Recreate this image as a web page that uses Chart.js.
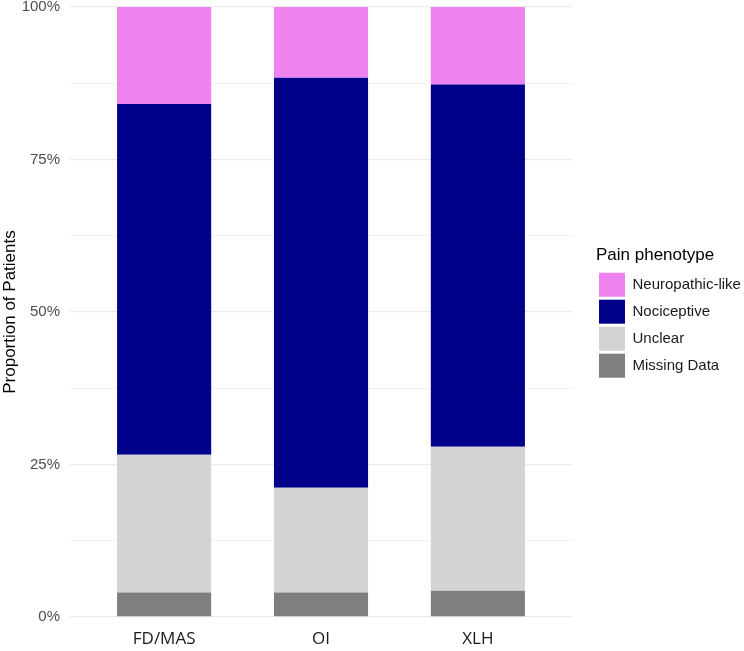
<!DOCTYPE html>
<html lang="en">
<head>
    <meta charset="UTF-8">
    <title>Pain phenotype</title>
    <script src="https://cdn.jsdelivr.net/npm/chart.js"></script>
    <style>
        html, body { margin: 0; padding: 0; background: #fff; }
        #wrap { width: 744px; height: 651px; }
    </style>
</head>
<body>
    <div id="wrap"><canvas id="myChart"></canvas></div>

    <script>
        // proportions (%), bottom to top of each bar
        const categories = ['FD/MAS', 'OI', 'XLH'];
        const missingData = [4.0, 4.0, 4.3];
        const unclear = [22.6, 17.2, 23.6];
        const nociceptive = [57.5, 67.2, 59.4];
        const neuropathic = [15.9, 11.6, 12.7];
        const yTicks = [0, 25, 50, 75, 100];

        const toPoints = arr => arr.map((v, i) => ({ x: i + 1, y: v }));

        const ctx = document.getElementById('myChart').getContext('2d');
        const myChart = new Chart(ctx, {
            type: 'bar',
            data: {
                datasets: [{
                    label: 'Missing Data',
                    data: toPoints(missingData),
                    backgroundColor: '#7f7f7f'
                }, {
                    label: 'Unclear',
                    data: toPoints(unclear),
                    backgroundColor: '#d3d3d3'
                }, {
                    label: 'Nociceptive',
                    data: toPoints(nociceptive),
                    backgroundColor: '#00008b'
                }, {
                    label: 'Neuropathic-like',
                    data: toPoints(neuropathic),
                    backgroundColor: '#ee82ee'
                }]
            },
            options: {
                responsive: true,
                maintainAspectRatio: false,
                animation: false,
                layout: { padding: { top: 7, right: 0, left: 0, bottom: 1 } },
                datasets: {
                    bar: { barPercentage: 0.6, categoryPercentage: 1, borderWidth: 0 }
                },
                plugins: {
                    tooltip: { enabled: false },
                    legend: {
                        position: 'right',
                        reverse: true,
                        fullSize: false,
                        maxWidth: 148,
                        title: {
                            display: true,
                            text: 'Pain phenotype',
                            position: 'start',
                            color: '#000',
                            font: { family: 'Liberation Sans', size: 17 },
                            padding: { top: 4, bottom: 2 }
                        },
                        labels: {
                            boxWidth: 26,
                            boxHeight: 24,
                            padding: 3,
                            color: '#1a1a1a',
                            font: { family: 'Liberation Sans', size: 15 }
                        }
                    }
                },
                scales: {
                    x: {
                        type: 'linear',
                        stacked: true,
                        offset: false,
                        min: 0.4,
                        max: 3.6,
                        afterBuildTicks: axis => {
                            axis.ticks = categories.map((c, i) => ({ value: i + 1 }));
                        },
                        afterFit: s => { s.height = 33; },
                        ticks: {
                            callback: v => categories[v - 1],
                            color: '#1a1a1a',
                            font: { family: 'Open Sans', size: 17 },
                            padding: 12
                        },
                        grid: { display: false, drawTicks: false, tickLength: 0 },
                        border: { display: false }
                    },
                    y: {
                        stacked: true,
                        min: 0,
                        max: 100,
                        afterBuildTicks: axis => {
                            axis.ticks = [0, 12.5, 25, 37.5, 50, 62.5, 75, 87.5, 100].map(v => ({ value: v }));
                        },
                        afterFit: s => { s.width = 70; s.paddingTop = 0; s.paddingBottom = 0; },
                        ticks: {
                            callback: v => yTicks.includes(v) ? v + '%' : '',
                            color: '#4d4d4d',
                            font: { family: 'Liberation Sans', size: 15 },
                            padding: 10
                        },
                        grid: {
                            color: '#ebebeb',
                            lineWidth: c => yTicks.includes(c.tick.value) ? 1.3 : 0.7,
                            drawTicks: false,
                            tickLength: 0
                        },
                        border: { display: false },
                        title: {
                            display: true,
                            text: 'Proportion of Patients',
                            color: '#000',
                            font: { family: 'Liberation Sans', size: 17 },
                            padding: { top: 0, bottom: 4 }
                        }
                    },
                    // empty right-hand axis, only keeps a gap between plot and legend
                    gap: {
                        position: 'right',
                        display: true,
                        grid: { display: false },
                        ticks: { display: false },
                        border: { display: false },
                        afterFit: s => { s.width = 24; s.paddingTop = 0; s.paddingBottom = 0; }
                    }
                }
            }
        });
    </script>
</body>
</html>
